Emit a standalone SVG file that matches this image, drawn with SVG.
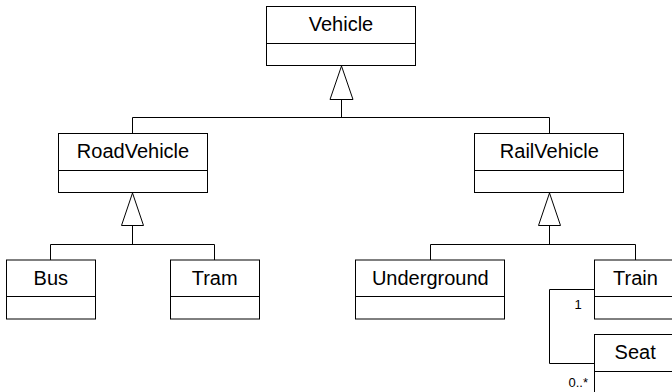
<svg xmlns="http://www.w3.org/2000/svg" width="672" height="392" viewBox="0 0 672 392">
  <style>
    .box { fill: #ffffff; stroke: #000000; stroke-width: 1; }
    .sep { stroke: #000000; stroke-width: 1; }
    .name { font-family: "Liberation Sans", Arial, sans-serif; font-size: 20px; text-anchor: middle; fill: #000000; }
    .mult { font-family: "Liberation Sans", Arial, sans-serif; font-size: 13px; fill: #000000; }
    .line { fill: none; stroke: #000000; stroke-width: 1; }
    .gen { fill: #ffffff; stroke: #000000; stroke-width: 1; }
  </style>

  <!-- connectors: generalisations and the Train–Seat association -->
  <g id="connectors">
    <!-- Vehicle <- RoadVehicle / RailVehicle -->
    <path class="line" d="M341.5 99.5 V117.5 M132.5 117.5 H549.5 M132.5 117.5 V133.5 M549.5 117.5 V133.5"/>
    <polygon class="gen" points="341.5,66 330,99.5 353,99.5"/>
    <!-- RoadVehicle <- Bus / Tram -->
    <path class="line" d="M132.5 225.5 V244.5 M50.5 244.5 H214.5 M50.5 244.5 V260 M214.5 244.5 V260"/>
    <polygon class="gen" points="132.5,193 121.5,225.5 143.5,225.5"/>
    <!-- RailVehicle <- Underground / Train -->
    <path class="line" d="M549.5 225.5 V244.5 M430.5 244.5 H635.5 M430.5 244.5 V260 M635.5 244.5 V260"/>
    <polygon class="gen" points="549.5,193 538.5,225.5 560.5,225.5"/>
    <!-- Train 1 — 0..* Seat -->
    <path class="line" d="M594.5 289.5 H549.5 V363.5 H594.5"/>
    <text class="mult" x="574.5" y="308.5">1</text>
    <text class="mult" x="568.5" y="386.5">0..*</text>
  </g>

  <g id="Vehicle">
    <rect class="box" x="266.5" y="6.5" width="149" height="59"/>
    <line class="sep" x1="266.5" y1="43.5" x2="415.5" y2="43.5"/>
    <text class="name" x="341" y="30.5">Vehicle</text>
  </g>

  <g id="RoadVehicle">
    <rect class="box" x="58.5" y="133.5" width="149" height="59"/>
    <line class="sep" x1="58.5" y1="170.5" x2="207.5" y2="170.5"/>
    <text class="name" x="133" y="157.8">RoadVehicle</text>
  </g>

  <g id="RailVehicle">
    <rect class="box" x="474.5" y="133.5" width="149" height="59"/>
    <line class="sep" x1="474.5" y1="170.5" x2="623.5" y2="170.5"/>
    <text class="name" x="549.3" y="157.8">RailVehicle</text>
  </g>

  <g id="Bus">
    <rect class="box" x="6.5" y="260" width="89" height="59"/>
    <line class="sep" x1="6.5" y1="296.5" x2="95.5" y2="296.5"/>
    <text class="name" x="50.8" y="284.5">Bus</text>
  </g>

  <g id="Tram">
    <rect class="box" x="170.5" y="260" width="89" height="59"/>
    <line class="sep" x1="170.5" y1="296.5" x2="259.5" y2="296.5"/>
    <text class="name" x="214.7" y="284.5">Tram</text>
  </g>

  <g id="Underground">
    <rect class="box" x="355.5" y="260" width="149" height="59"/>
    <line class="sep" x1="355.5" y1="296.5" x2="504.5" y2="296.5"/>
    <text class="name" x="430.3" y="284.5">Underground</text>
  </g>

  <g id="Train">
    <rect class="box" x="594.5" y="260" width="82" height="59"/>
    <line class="sep" x1="594.5" y1="296.5" x2="676.5" y2="296.5"/>
    <text class="name" x="635.5" y="284.5">Train</text>
  </g>

  <g id="Seat">
    <rect class="box" x="594.5" y="334.5" width="82" height="59"/>
    <line class="sep" x1="594.5" y1="371.5" x2="676.5" y2="371.5"/>
    <text class="name" x="635.2" y="358.8">Seat</text>
  </g>
</svg>
